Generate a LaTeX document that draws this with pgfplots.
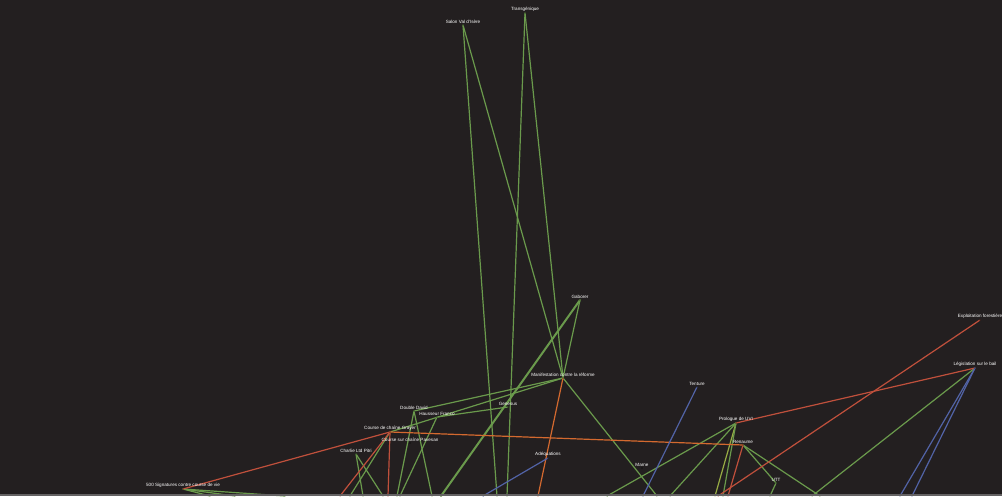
\documentclass[border=0pt]{standalone}
\usepackage{fontspec}
\setmainfont{Liberation Sans}
\usepackage{pgfplots}
\pgfplotsset{compat=1.18}
\definecolor{bgcol}{HTML}{231F20}
\definecolor{eg}{HTML}{6A9A4C}
\definecolor{er}{HTML}{C0503C}
\definecolor{eo}{HTML}{D4692F}
\definecolor{eb}{HTML}{5263A6}
\definecolor{ey}{HTML}{98AC44}
\begin{document}
\begin{tikzpicture}
\path[use as bounding box] (0,0) rectangle (1002pt,496pt);
\clip (0,0) rectangle (1002pt,496pt);
\fill[bgcol] (0,0) rectangle (1002pt,496pt);
\begin{axis}[
  at={(0,0)}, anchor=south west,
  width=1002pt, height=496pt, scale only axis,
  xmin=0, xmax=1002, ymin=0, ymax=496, y dir=reverse,
  hide axis,
  every axis plot/.append style={line width=1.2pt, line cap=round},
]
% green edges
\addplot[eg] coordinates {(463,25) (497,496)};
\addplot[eg] coordinates {(463,25) (563,378)};
\addplot[eg] coordinates {(525,13) (507,496)};
\addplot[eg] coordinates {(525,13) (563,378)};
\addplot[eg] coordinates {(580,300) (563,378)};
\addplot[eg, line width=2pt] coordinates {(580,300) (441,496)};
\addplot[eg] coordinates {(563,378) (414,411)};
\addplot[eg] coordinates {(563,378) (390,432)};
\addplot[eg] coordinates {(563,378) (657,496)};
\addplot[eg] coordinates {(508,407) (437,417)};
\addplot[eg] coordinates {(390,432) (350,496)};
\addplot[eg] coordinates {(414,411) (397,496)};
\addplot[eg] coordinates {(414,411) (432,496)};
\addplot[eg] coordinates {(437,417) (400,496)};
\addplot[eg] coordinates {(356,454) (363,496)};
\addplot[eg] coordinates {(356,454) (383,496)};
\addplot[eg] coordinates {(183,489) (210,496)};
\addplot[eg] coordinates {(183,489) (235,496)};
\addplot[eg] coordinates {(183,489) (285,496)};
\addplot[eg] coordinates {(736,423) (607,496)};
\addplot[eg] coordinates {(736,423) (670,496)};
\addplot[ey] coordinates {(736,423) (715,496)};
\addplot[eg] coordinates {(736,423) (723,496)};
\addplot[eg] coordinates {(743,445) (776,483)};
\addplot[eg] coordinates {(743,445) (820,496)};
\addplot[eg] coordinates {(776,483) (770,496)};
\addplot[eg] coordinates {(975,368) (812,496)};
% red edges
\addplot[er] coordinates {(183,489) (390,432)};
\addplot[er] coordinates {(390,432) (340,496)};
\addplot[er] coordinates {(390,432) (388,496)};
\addplot[er] coordinates {(743,445) (728,496)};
\addplot[er] coordinates {(975,368) (736,423)};
\addplot[er] coordinates {(980,320) (718,496)};
% orange edges
\addplot[eo] coordinates {(563,378) (538,496)};
\addplot[eo] coordinates {(390,432) (743,445)};
% blue edges
\addplot[eb] coordinates {(548,458) (483,496)};
\addplot[eb] coordinates {(697,387) (643,496)};
\addplot[eb] coordinates {(975,368) (900,496)};
\addplot[eb] coordinates {(975,368) (912,496)};
% node labels
\addplot[only marks, mark=*, mark size=0pt, draw=none,
  nodes near coords, point meta=explicit symbolic,
  nodes near coords style={font=\fontsize{4.6}{5}\selectfont, text=white, anchor=south, inner sep=0.8pt}]
coordinates {
(463,25) [Salon Val d'Isère]
(525,13) [Transgénique]
(580,300) [Gaborer]
(563,378) [Manifestation contre la réforme]
(508,407) [Genesus]
(414,411) [Double David]
(437,417) [Hausseur Franco]
(390,432) [Course de chaîne Grayer]
(410,443) [Course sur chaîne Pavesan]
(356,454) [Charlie Ltd Pitri]
(183,489) [500 Signatures contre course de vie]
(548,458) [Adéquations]
(642,468) [Marne]
(697,387) [Tenture]
(736,423) [Prologue de UVI]
(743,445) [Renaume]
(776,483) [UTT]
(980,320) [Exploitation forestière]
(975,368) [Législation sur le bail]
};
\end{axis}
\fill[gray!70!bgcol] (0,0) rectangle (1002pt,2.5pt);
\end{tikzpicture}
\end{document}
